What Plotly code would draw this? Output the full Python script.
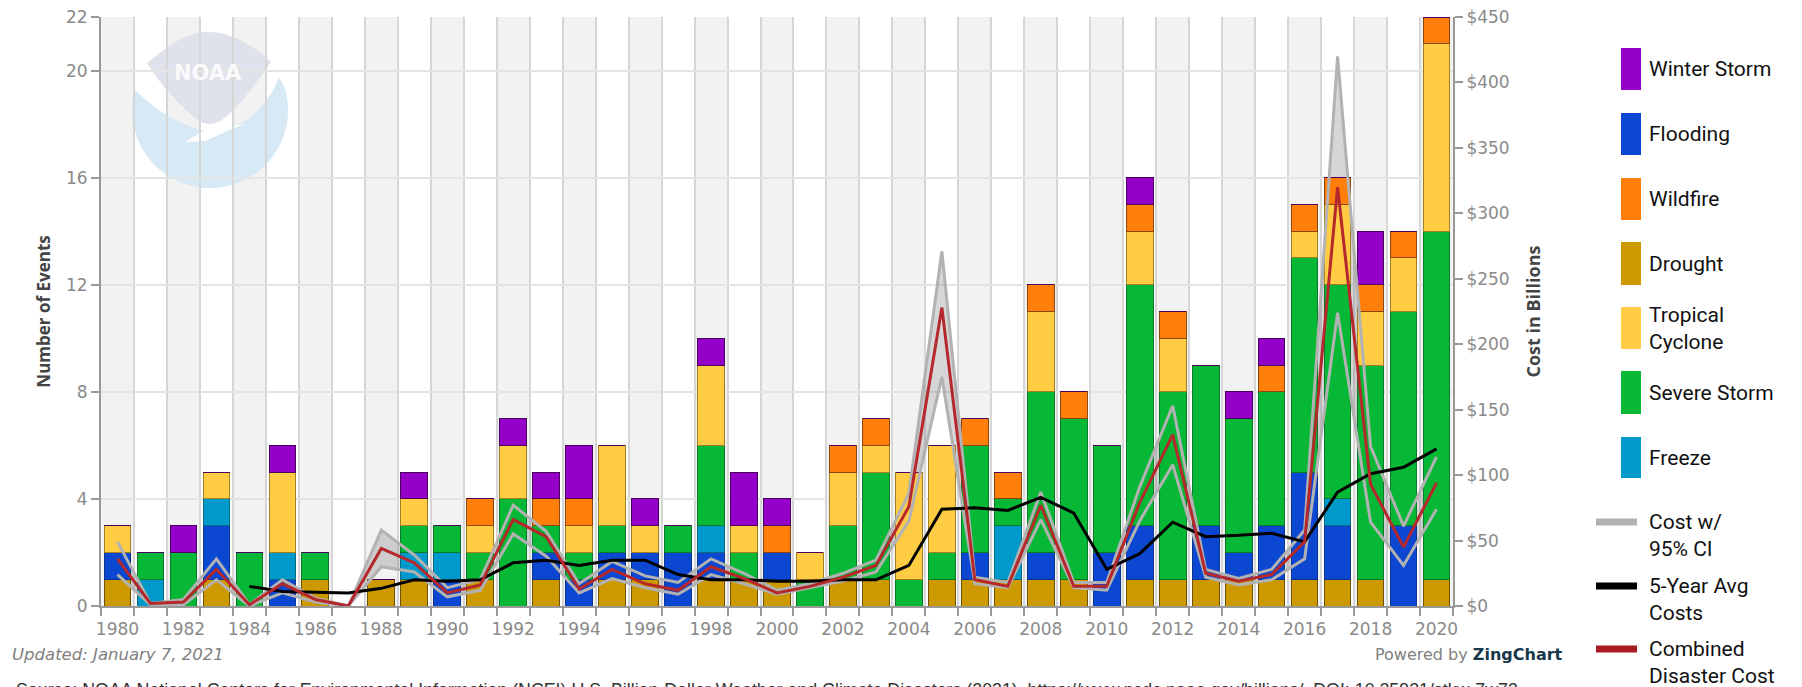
import numpy as np
import plotly.graph_objects as go

years = list(range(1980, 2021))

# Event counts per year
drought  = [1,0,0,1,0,0,1,0,1,1,0,1,0,1,0,1,1,0,1,1,1,0,1,1,0,1,1,1,1,1,0,1,1,1,1,1,1,1,1,0,1]
flooding = [1,0,0,2,0,1,0,0,0,0,1,0,0,1,1,1,1,2,1,0,1,0,0,0,0,0,1,0,1,0,2,2,0,2,1,2,4,2,0,3,0]
freeze   = [0,1,0,1,0,1,0,0,0,1,1,0,0,0,0,0,0,0,1,0,0,0,0,0,0,0,0,2,0,0,0,0,0,0,0,0,0,1,0,0,0]
severe   = [0,1,2,0,2,0,1,0,0,1,1,1,4,1,1,1,0,1,3,1,0,1,2,4,1,1,4,1,6,6,4,9,7,6,5,5,8,8,8,8,13]
tropical = [1,0,0,1,0,3,0,0,0,1,0,1,2,0,1,3,1,0,3,1,0,1,2,1,4,4,0,0,3,0,0,2,2,0,0,0,1,3,2,2,7]
wildfire = [0,0,0,0,0,0,0,0,0,0,0,1,0,1,1,0,0,0,0,0,1,0,1,1,0,0,1,1,1,1,0,1,1,0,0,1,1,1,1,1,1]
winter   = [0,0,1,0,0,1,0,None,0,1,0,0,1,1,2,0,1,0,1,2,1,0,0,0,0,0,0,0,0,0,0,1,0,0,1,1,0,0,2,0,0]

# Costs in billions of dollars
combined = [36,2,3,28,1,17,5,0,44,33,10,16,66,53,13,28,17,12,30,21,10,15,22,31,76,228,20,15,77,15,15,79,131,25,19,24,49,320,93,45,94]
ci_upper = [49,2,5,36,1,20,6,0,58,39,14,20,77,57,17,34,23,18,36,25,12,17,25,35,86,271,22,18,87,18,18,91,153,28,21,28,58,420,122,61,114]
ci_lower = [24,1,1,20,0,10,3,0,30,26,7,12,55,38,10,21,14,9,24,17,9,14,19,26,65,175,17,14,66,14,12,65,108,22,16,20,36,224,64,31,74]
avg_years = list(range(1984, 2021))
avg_5yr  = [15,11,10.5,10,13.5,20,19,20,33,35,31,35,35,24,20,20,19,19,20,20,31,74,75,73,83,71,28,40,64,53,54,55.6,49,87,101,106,120]

left_ticks = [0,4,8,12,16,20,22]
right_ticks = [0,50,100,150,200,250,300,350,400,450]
right_labels = ["$0","$50","$100","$150","$200","$250","$300","$350","$400","$450"]

W, H = 1802, 687
L, R, T, B = 101, 1453, 17, 606
GREY = "#8a8a8a"
TICKFONT = dict(family="DejaVu Sans", size=17, color=GREY)
LEGFONT = dict(family="Liberation Sans Narrow, Roboto, sans-serif", size=21, color="#111")

def px(x, y):
    return (x - L) / (R - L), (B - y) / (B - T)

def pth(cmds):
    out = []
    for c in cmds:
        if c == "Z":
            out.append("Z")
        else:
            out.append(c[0] + " ".join("%.5f,%.5f" % px(*p) for p in c[1:]))
    return " ".join(out)

def note(text, x, y, xanchor="left", yanchor="middle", font=None, align="left"):
    return dict(text=text, xref="paper", yref="paper", x=px(x, 0)[0], y=px(0, y)[1], xanchor=xanchor,
                yanchor=yanchor, align=align, showarrow=False, font=font)

fig = go.Figure()

CI = "#b2b2b2"
# Confidence band sits behind the bars, on the base axis
fig.add_scatter(x=years, y=ci_lower, yaxis="y", mode="lines", line=dict(width=0), showlegend=False, hoverinfo="skip")
fig.add_scatter(x=years, y=ci_upper, yaxis="y", mode="lines", line=dict(width=0), fill="tonexty",
                fillcolor="rgba(120,120,120,0.30)", showlegend=False, hoverinfo="skip")

bar_series = [
    ("Drought", drought, "#cc9900", "#6e5400"),
    ("Flooding", flooding, "#0b47d1", "#0a3590"),
    ("Freeze", freeze, "#0099cc", "#0a6a80"),
    ("Severe Storm", severe, "#06b835", "#0a7a2a"),
    ("Tropical Cyclone", tropical, "#ffcc44", "#a08020"),
    ("Wildfire", wildfire, "#ff7f0a", "#8a4510"),
    ("Winter Storm", winter, "#9400c8", "#4a0060"),
]
for name, vals, col, edge in bar_series:
    keep_zero = name == "Winter Storm"
    y = vals if keep_zero else [v if v else None for v in vals]
    fig.add_bar(x=years, y=y, yaxis="y2", name=name, marker=dict(color=col, line=dict(color=edge, width=1)),
                showlegend=False)

fig.add_scatter(x=years, y=ci_lower, yaxis="y3", mode="lines", name="Cost lower",
                line=dict(color=CI, width=3), showlegend=False)
fig.add_scatter(x=years, y=ci_upper, yaxis="y3", mode="lines", name="Cost w/ 95% CI",
                line=dict(color=CI, width=3), showlegend=False)
fig.add_scatter(x=avg_years, y=avg_5yr, yaxis="y3", mode="lines", name="5-Year Avg Costs",
                line=dict(color="#000", width=3), showlegend=False)
fig.add_scatter(x=years, y=combined, yaxis="y3", mode="lines", name="Combined Disaster Cost",
                line=dict(color="#b5282c", width=3), showlegend=False)

shapes = []
for i, yr in enumerate(years):
    if i % 2 == 0:
        shapes.append(dict(type="rect", xref="x", yref="paper", x0=yr - 0.5, x1=yr + 0.5, y0=0, y1=1,
                           fillcolor="#f2f2f2", line_width=0, layer="below"))

# NOAA logo
a = np.radians(np.linspace(-17, 197, 60))
r = 78; cx, cy = 210, 110
arc = [(cx + r * np.cos(t), cy + r * np.sin(t)) for t in a]
blue_cmds = [("M", (133, 88)), ("C", (145, 100), (165, 118), (197, 129)), ("C", (215, 134), (235, 128), (250, 118)),
             ("C", (265, 105), (275, 90), (279, 77))]
blue_cmds += [("L", p) for p in arc] + ["Z"]
shapes.append(dict(type="path", xref="paper", yref="paper", path=pth(blue_cmds),
                   fillcolor="#d6e9f5", line_width=0, layer="below"))
shapes.append(dict(type="path", xref="paper", yref="paper",
                   path=pth([("M", (147, 63)), ("C", (175, 40), (190, 32), (208, 32)), ("C", (228, 32), (250, 42), (271, 62)),
                             ("C", (255, 85), (238, 108), (222, 120)), ("C", (212, 126), (203, 125), (195, 118)),
                             ("C", (178, 103), (160, 85), (147, 63)), "Z"]),
                   fillcolor="#dfe2ea", line_width=0, layer="below"))
shapes.append(dict(type="path", xref="paper", yref="paper",
                   path=pth([("M", (185, 142)), ("L", (205, 130)), ("L", (245, 124)), ("L", (232, 129)), ("L", (205, 141)), "Z"]),
                   fillcolor="#ffffff", line_width=0, layer="below"))

annotations = [
    note("<b>NOAA</b>", 208, 73, xanchor="center", font=dict(family="DejaVu Sans", size=21, color="rgba(255,255,255,0.85)")),
    note("<i>Updated: January 7, 2021</i>", 10, 654, font=dict(family="DejaVu Sans", size=16.5, color="#808080")),
    note('Powered by <b><span style="color:#17384a">ZingChart</span></b>', 1565, 654, xanchor="right",
         font=dict(family="DejaVu Sans", size=16, color="#808080")),
    note("Source: NOAA National Centers for Environmental Information (NCEI) U.S. Billion-Dollar Weather and Climate Disasters (2021). https://www.ncdc.noaa.gov/billions/, DOI: 10.25921/stkw-7w73",
         14, 678, yanchor="top", font=dict(family="Liberation Sans", size=17.8, color="#333")),
]

legend_boxes = [
    ("Winter Storm", "#9400c8", 48, 90),
    ("Flooding", "#0b47d1", 113, 155),
    ("Wildfire", "#ff7f0a", 178, 220),
    ("Drought", "#cc9900", 242, 285),
    ("Tropical<br>Cyclone", "#ffcc44", 307, 349),
    ("Severe Storm", "#06b835", 371, 414),
    ("Freeze", "#0099cc", 437, 478),
]
for label, col, y0, y1 in legend_boxes:
    x0p, y0p = px(1621, y0); x1p, y1p = px(1641, y1)
    shapes.append(dict(type="rect", xref="paper", yref="paper", x0=x0p, x1=x1p, y0=y0p, y1=y1p, fillcolor=col, line_width=0))
    annotations.append(note(label, 1647, (y0 + y1) / 2, font=LEGFONT))
legend_lines = [
    ("Cost w/<br>95% CI", "#b2b2b2", 522, 535),
    ("5-Year Avg<br>Costs", "#000000", 586, 599),
    ("Combined<br>Disaster Cost", "#a81c22", 649, 662),
]
for label, col, yl, yt in legend_lines:
    x0p, yp = px(1596, yl); x1p, _ = px(1637, yl)
    shapes.append(dict(type="line", xref="paper", yref="paper", x0=x0p, x1=x1p, y0=yp, y1=yp, line=dict(color=col, width=7)))
    annotations.append(note(label, 1647, yt, font=LEGFONT))

TITLEFONT = dict(family="Open Sans", size=17, color="#444")

fig.update_layout(
    width=W, height=H, autosize=False, barmode="stack", bargap=0.19,
    margin=dict(l=L, r=W - R, t=T, b=H - B, pad=0, autoexpand=False),
    plot_bgcolor="rgba(0,0,0,0)", paper_bgcolor="#ffffff",
    shapes=shapes, annotations=annotations,
    xaxis=dict(range=[1979.5, 2020.5], tickmode="linear", tick0=1980, dtick=2, ticks="", showgrid=False,
               tickfont=TICKFONT, ticklabelstandoff=7, showline=True, linecolor="#999", linewidth=2, zeroline=False,
               minor=dict(tick0=1979.5, dtick=1, ticks="outside", ticklen=8, tickcolor="#999", tickwidth=2,
                          showgrid=True, gridcolor="#d6d6d6", gridwidth=2)),
    yaxis=dict(range=[0, 450], side="right", showticklabels=False, ticks="", showgrid=False, zeroline=False, showline=False),
    yaxis2=dict(range=[0, 22], overlaying="y", side="left", tickmode="array", tickvals=left_ticks, ticks="outside", ticklen=8,
                tickcolor="#999", tickwidth=2, tickfont=TICKFONT, showline=True, linecolor="#999", linewidth=2,
                showgrid=True, gridcolor="#e4e4e4", gridwidth=2, zeroline=False, automargin=False,
                title=dict(text="<b>Number of Events</b>", font=TITLEFONT, standoff=11)),
    yaxis3=dict(range=[0, 450], overlaying="y", side="right", tickmode="array", tickvals=right_ticks, ticktext=right_labels,
                ticks="outside", ticklen=8, tickcolor="#999", tickwidth=2, tickfont=TICKFONT, showline=True, linecolor="#999",
                linewidth=2, showgrid=False, zeroline=False, automargin=False,
                title=dict(text="<b>Cost in Billions</b>", font=dict(family="Open Sans", size=18, color="#444"), standoff=19)),
)

fig.write_html("out.html", config={"displayModeBar": False}, post_script="document.body.style.margin='0';")
